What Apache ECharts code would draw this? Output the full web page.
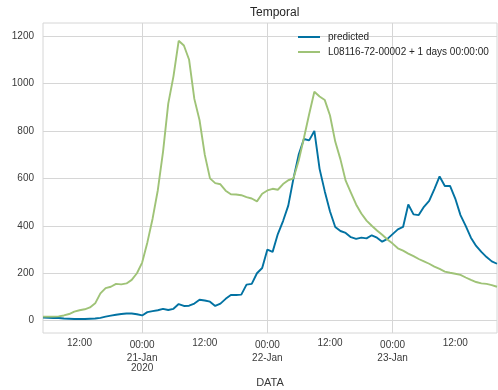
<!DOCTYPE html>
<html>
<head>
<meta charset="utf-8">
<script src="https://cdn.jsdelivr.net/npm/echarts@6/dist/echarts.min.js"></script>
<style>
  html, body { margin: 0; padding: 0; background: #ffffff; }
  #chart { width: 498px; height: 390px; }
</style>
</head>
<body>
<div id="chart"></div>
<script>
// Hourly samples; x is counted in hours from 20-Jan-2020 00:00.
const START_HOUR = 5;      // first sample: 20-Jan 05:00
const X_MAX_HOUR = 92;     // last sample: 23-Jan 20:00

const predicted = [
  13, 12, 11, 11, 9, 8, 7, 7, 7, 8,
  9, 12, 17, 21, 25, 28, 30, 30, 27, 22,
  36, 40, 44, 50, 45, 50, 70, 62, 63, 72,
  88, 85, 80, 62, 72, 92, 108, 108, 110, 152,
  155, 200, 222, 300, 290, 365, 420, 485, 600, 700,
  766, 760, 800, 640, 545, 460, 395, 378, 370, 352,
  345, 350, 347, 360, 350, 333, 345, 365, 385, 395,
  490, 448, 445, 480, 505, 555, 608, 568, 568, 515,
  445, 400, 350, 315, 290, 268, 250, 240
];

const shifted = [
  17, 17, 17, 18, 22, 28, 38, 44, 48, 56,
  73, 115, 137, 143, 155, 153, 157, 172, 200, 245,
  330, 430, 550, 712, 915, 1030, 1180, 1160, 1100, 935,
  845, 700, 600, 580, 575, 548, 533, 532, 529, 521,
  515, 503, 535, 549, 556, 552, 576, 592, 600, 675,
  770, 870, 965, 945, 930, 865, 755, 680, 590, 540,
  490, 452, 422, 400, 380, 362, 342, 325, 305, 295,
  283, 272, 260, 250, 240, 228, 218, 207, 202, 198,
  193, 182, 172, 163, 157, 155, 150, 143
];

const seriesNames = ['predicted', 'L08116-72-00002 + 1 days 00:00:00'];
const dayLabels = ['20-Jan', '21-Jan', '22-Jan', '23-Jan'];
const yearLabel = '2020';
const xLabelHours = [12, 24, 36, 48, 60, 72, 84];
const xGridHours = [24, 48, 72];
const yTicks = [0, 200, 400, 600, 800, 1000, 1200];

const toPairs = vals => vals.map((v, i) => [START_HOUR + i, v]);

const textColor = '#3a3a3a';
const gridColor = '#d6d6d6';
const blue = '#0272a2';
const green = '#9fc377';

const chart = echarts.init(document.getElementById('chart'), null, { renderer: 'canvas' });
chart.setOption({
  animation: false,
  backgroundColor: '#ffffff',
  title: {
    text: 'Temporal',
    left: 245,
    top: 2,
    textStyle: { fontFamily: 'Liberation Sans', fontSize: 12, fontWeight: 'normal', color: '#262626' }
  },
  legend: {
    orient: 'vertical',
    left: 293,
    top: 26,
    icon: 'rect',
    itemWidth: 22,
    itemHeight: 2,
    itemGap: 3,
    textStyle: { fontFamily: 'Liberation Sans', fontSize: 10, lineHeight: 12, color: '#262626', padding: [0, 0, 0, 3] },
    data: [
      { name: seriesNames[0], itemStyle: { color: blue } },
      { name: seriesNames[1], itemStyle: { color: green } }
    ]
  },
  grid: {
    left: 43, right: 1, top: 23, bottom: 57,
    containLabel: false,
    outerBoundsMode: 'none',
    show: true, borderColor: gridColor, borderWidth: 1
  },
  xAxis: {
    type: 'value',
    min: START_HOUR,
    max: X_MAX_HOUR,
    name: 'DATA',
    nameLocation: 'middle',
    nameGap: 39,
    nameTextStyle: { fontFamily: 'Liberation Sans', fontSize: 11, color: textColor },
    axisLine: { show: false },
    axisTick: { show: false, customValues: xGridHours },
    splitLine: { show: true, lineStyle: { color: gridColor, width: 1 } },
    axisLabel: {
      customValues: xLabelHours,
      margin: 5,
      fontFamily: 'Liberation Sans',
      fontSize: 10,
      color: textColor,
      formatter: function (v) {
        const day = Math.floor(v / 24);
        const hour = v % 24;
        if (hour === 12) return '{n|12:00}';
        let s = '{a|00:00}\n{b|' + dayLabels[day] + '}';
        if (day === 1) s += '\n{b|' + yearLabel + '}';
        return s;
      },
      rich: {
        n: { fontFamily: 'Liberation Sans', fontSize: 10, color: textColor, lineHeight: 11 },
        a: { fontFamily: 'Liberation Sans', fontSize: 10, color: textColor, lineHeight: 15 },
        b: { fontFamily: 'Liberation Sans', fontSize: 10, color: textColor, lineHeight: 10 }
      }
    }
  },
  yAxis: {
    type: 'value',
    min: -52,
    max: 1255,
    axisLine: { show: false },
    axisTick: { show: false, customValues: yTicks },
    splitLine: { show: true, lineStyle: { color: gridColor, width: 1 } },
    axisLabel: {
      customValues: yTicks,
      margin: 9,
      fontFamily: 'Liberation Sans',
      fontSize: 10,
      color: textColor,
      formatter: v => String(v)
    }
  },
  series: [
    {
      name: seriesNames[0],
      type: 'line',
      symbol: 'none',
      data: toPairs(predicted),
      lineStyle: { color: blue, width: 1.9 },
      itemStyle: { color: blue }
    },
    {
      name: seriesNames[1],
      type: 'line',
      symbol: 'none',
      data: toPairs(shifted),
      lineStyle: { color: green, width: 1.9 },
      itemStyle: { color: green }
    }
  ]
});
</script>
</body>
</html>
